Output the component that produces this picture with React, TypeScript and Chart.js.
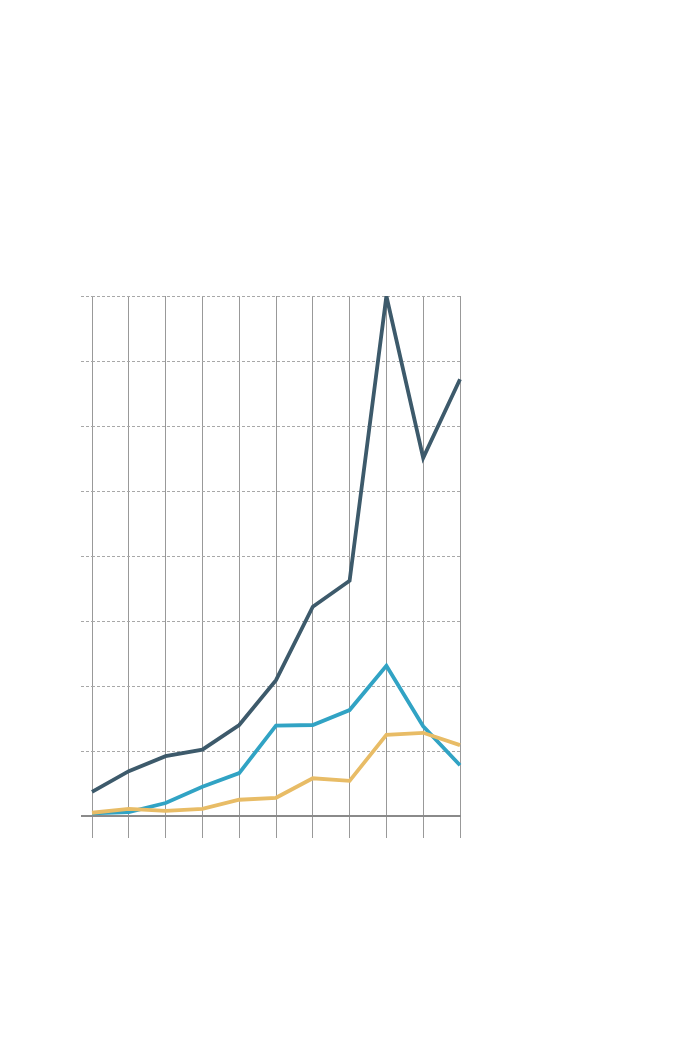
import React, { useEffect, useRef } from "react";
import { Chart, registerables } from "chart.js";

Chart.register(...registerables);

const categories = ["1", "2", "3", "4", "5", "6", "7", "8", "9", "10", "11"];
const seriesDark = [0.37, 0.69, 0.92, 1.02, 1.4, 2.09, 3.22, 3.62, 8.0, 5.51, 6.72];
const seriesYellow = [0.05, 0.11, 0.08, 0.11, 0.25, 0.28, 0.58, 0.54, 1.25, 1.28, 1.09];
const seriesBlue = [0.04, 0.06, 0.2, 0.45, 0.66, 1.39, 1.4, 1.63, 2.31, 1.38, 0.78];
const yMin = 0;
const yMax = 8;
const yStep = 1;
const baselineValue = 0;

const baselinePlugin = {
  id: "baseline",
  beforeDatasetsDraw(chart: any) {
    const y = chart.scales.y;
    const py = Math.round(y.getPixelForValue(baselineValue));
    const ctx = chart.ctx;
    ctx.save();
    ctx.strokeStyle = "#8a8a8a";
    ctx.lineWidth = 2;
    ctx.setLineDash([]);
    ctx.beginPath();
    ctx.moveTo(y.left, py);
    ctx.lineTo(chart.chartArea.right + 1, py);
    ctx.stroke();
    ctx.restore();
  },
};

export default function App() {
  const ref = useRef<HTMLCanvasElement | null>(null);
  useEffect(() => {
    if (!ref.current) return;
    const chart = new Chart(ref.current, {
      type: "line",
      data: {
        labels: categories,
        datasets: [
          { data: seriesDark, borderColor: "#3d5a6b", borderWidth: 3.8, pointRadius: 0, tension: 0, fill: false },
          { data: seriesYellow, borderColor: "#e8bc66", borderWidth: 3.8, pointRadius: 0, tension: 0, fill: false },
          { data: seriesBlue, borderColor: "#31a3c4", borderWidth: 3.8, pointRadius: 0, tension: 0, fill: false },
        ],
      },
      options: {
        animation: false,
        responsive: false,
        maintainAspectRatio: false,
        layout: { padding: { left: 81, right: 240, top: 296, bottom: 222 } },
        plugins: { legend: { display: false }, tooltip: { enabled: false } },
        scales: {
          x: {
            offset: false,
            ticks: { display: false },
            grid: { color: "#999999", lineWidth: 1, tickLength: 22, drawTicks: true },
            border: { display: false },
            afterFit: (s: any) => { s.height = 22; },
          },
          y: {
            min: yMin,
            max: yMax,
            ticks: { display: false, stepSize: yStep },
            grid: {
              color: "#a8a8a8",
              lineWidth: 1,
              tickLength: 11,
              tickBorderDash: [3, 2],
            } as any,
            border: { display: false, dash: [3, 2] },
            afterFit: (s: any) => { s.width = 11; },
          },
        },
      },
      plugins: [baselinePlugin],
    });
    return () => chart.destroy();
  }, []);
  return (
    <div style={{ position: "fixed", left: 0, top: 0, width: 700, height: 1060 }}>
      <canvas ref={ref} width={700} height={1060} style={{ width: 700, height: 1060 }} />
    </div>
  );
}
